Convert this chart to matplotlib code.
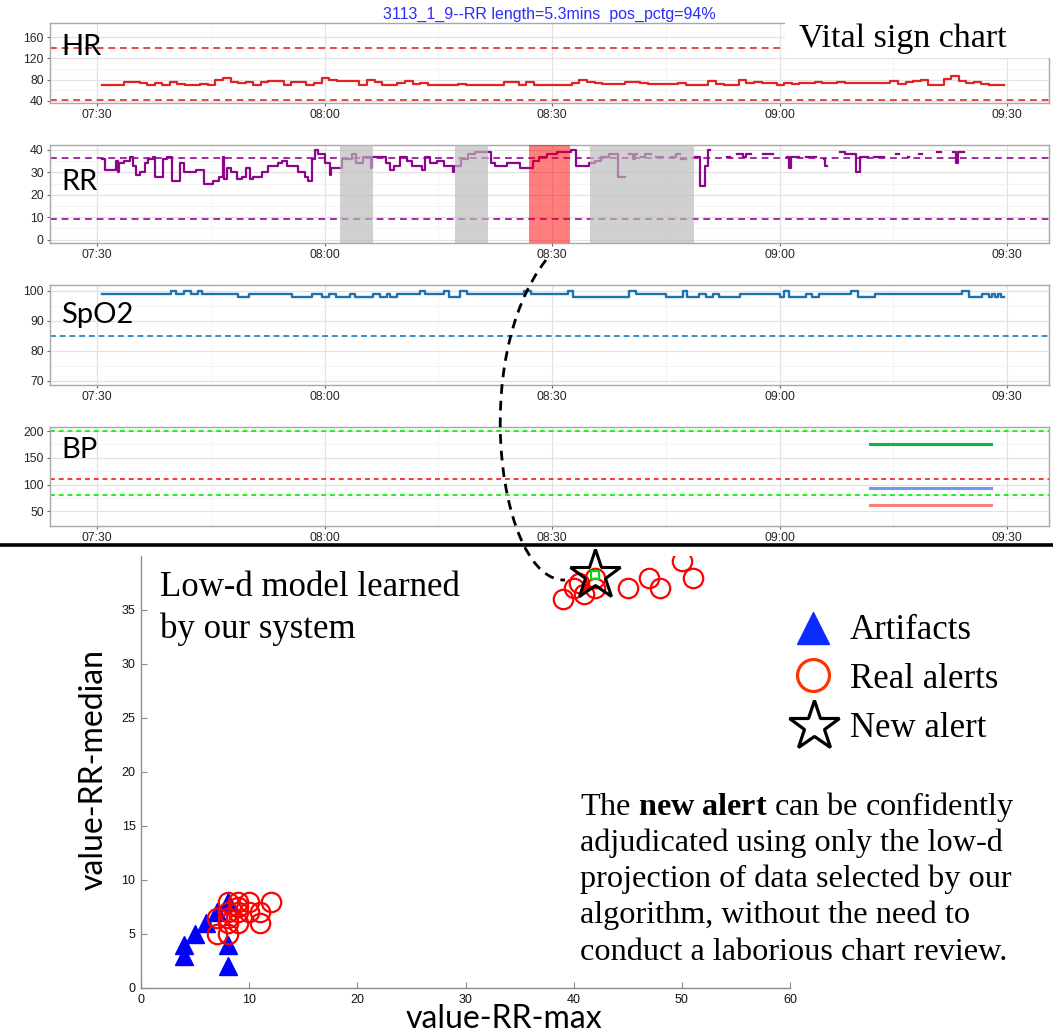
import numpy as np
import matplotlib
matplotlib.use("Agg")
import matplotlib.pyplot as plt
from matplotlib.patches import Rectangle, PathPatch
from matplotlib.path import Path

plt.rcParams['font.family'] = ['Liberation Sans', 'DejaVu Sans']
plt.rcParams['mathtext.fontset'] = 'custom'
plt.rcParams['mathtext.rm'] = 'Liberation Serif'
plt.rcParams['mathtext.bf'] = 'Liberation Serif:bold'
plt.rcParams['mathtext.it'] = 'Liberation Serif:italic'

nan = np.nan

# ---------------- data ----------------
title = "3113_1_9--RR length=5.3mins  pos_pctg=94%"
time_ticks = [0, 30, 60, 90, 120]            # minutes after 07:30
time_labels = ['07:30', '08:00', '08:30', '09:00', '09:30']

# heart rate, one reading per minute starting 07:30.6
hr_values = [70, 70, 70, 75, 75, 74, 70, 74, 70, 75,
             72, 70, 70, 71, 70, 79, 82, 76, 74, 75,
             70, 76, 77, 77, 70, 76, 76, 70, 74, 82,
             80, 78, 77, 77, 70, 80, 75, 70, 70, 74,
             78, 72, 74, 70, 70, 70, 70, 72, 70, 70,
             70, 70, 70, 75, 75, 70, 75, 70, 70, 70,
             70, 70, 74, 80, 76, 74, 72, 72, 72, 76,
             75, 73, 72, 72, 72, 72, 74, 70, 70, 70,
             77, 72, 70, 70, 80, 74, 75, 73, 74, 70,
             74, 72, 74, 73, 75, 74, 74, 76, 73, 73,
             73, 73, 73, 73, 77, 72, 76, 77, 80, 70,
             70, 81, 87, 78, 73, 76, 72, 70, 70]
hr_start = 0.6
hr_thresholds = [41, 140]

rr_t = [0.7, 1.1, 2.5, 2.7, 2.9, 3.6, 4.3, 4.7, 5.2, 5.6,
        6.3, 6.7, 7.4, 7.6, 8.7, 9.2, 9.9, 11.0, 11.4, 13.0,
        14.1, 15.3, 16.1, 16.6, 16.8, 17.1, 17.7, 18.4, 19.1, 19.7,
        20.2, 20.6, 21.7, 22.6, 23.8, 24.4, 25.1, 26.5, 27.4, 27.8,
        28.3, 28.7, 29.1, 30.0, 30.7, 30.9, 32.3, 33.6, 34.1, 35.0,
        36.1, 36.3, 38.1, 38.6, 39.2, 39.9, 40.8, 41.5, 42.8, 43.3,
        43.9, 44.8, 45.8, 46.9, 47.1, 48.0, 48.9, 49.8, 52.0, 52.5,
        54.0, 55.7, 57.5, 58.2, 59.3, 60.7, 62.5, 63.1, 64.9, 65.7,
        66.5, 67.5, 68.7, 69.6,
        70.1, 70.6, 70.9, 71.2,
        71.7, 72.2, 73.0,
        73.7, 74.6,
        75.7, 76.3, 76.8,
        77.0, 77.7,
        78.8, 79.5, 80.2, 80.6, 80.8,
        83.1, 83.5,
        84.4, 85.2, 85.6, 86.2,
        87.8, 89.1,
        90.9, 91.2, 91.5, 92.5,
        93.4, 94.8,
        95.9, 96.0, 96.2,
        97.9, 98.6, 99.5,
        99.7, 100.0, 100.6, 101.7,
        102.4, 103.7,
        105.3, 105.7,
        106.9, 107.1,
        108.4, 108.7,
        110.7, 111.3,
        112.9, 113.2, 113.5, 114.3]
rr_v = [36, 31, 35, 30, 34, 35, 37, 33, 29, 30,
        34, 36, 37, 28, 36, 37, 26, 34, 30, 31,
        25, 26, 28, 37, 27, 32, 30, 27, 28, 32,
        27, 28, 30, 33, 34, 35, 33, 30, 28, 26,
        36, 40, 38, 34, 29, 32, 36, 38, 34, 37,
        32, 37, 34, 31, 33, 37, 35, 33, 31, 37,
        34, 35, 33, 30, 33, 36, 38, 39, 34, 33,
        34, 32, 35, 37, 38, 39, 40, 33, 34, 35,
        37, 38, 28, nan,
        38, 36, 38, nan,
        37, 38, nan,
        37, nan,
        37, 38, nan,
        36, nan,
        37, 24, 33, 40, nan,
        37, nan,
        38, 37, 38, nan,
        38, nan,
        37, 32, 37, nan,
        37, nan,
        36, 33, nan,
        39, 38, nan,
        38, 30, 37, nan,
        37, nan,
        38, nan,
        37, nan,
        38, nan,
        39, nan,
        39, 34, 39, nan]
rr_thresholds = [9, 36.5]
gray_windows = [(32.0, 36.4), (47.2, 51.5), (65.0, 78.7)]
alert_window = (57.0, 62.4)

spo2_t = [0.6, 9.8, 10.4, 11.5, 12.4, 13.3, 13.8, 18.6, 20.0, 25.7,
          28.4, 29.7, 30.6, 31.5, 33.3, 34.0, 36.4, 37.3, 38.2, 38.6,
          39.5, 42.6, 43.2, 45.7, 46.4, 47.9, 48.8, 56.3, 57.2, 62.1,
          62.7, 66.1, 70.1, 71.0, 75.0, 77.2, 77.8, 79.4, 80.3, 81.2,
          82.0, 84.7, 90.0, 90.5, 91.2, 93.4, 94.3, 95.2, 99.4, 100.3,
          102.5, 114.0, 114.9, 116.7, 117.6, 118.0, 118.4, 118.8, 119.2, 119.6]
spo2_v = [99, 100, 99, 100, 99, 100, 99, 98, 99, 98,
          99, 98, 99, 98, 99, 98, 99, 98, 99, 98,
          99, 100, 99, 100, 98, 100, 99, 100, 99, 100,
          98, 98, 100, 99, 98, 100, 98, 99, 98, 99,
          98, 99, 98, 100, 98, 99, 98, 99, 100, 98,
          99, 100, 98, 99, 98, 99, 98, 99, 98, 98]
spo2_thresholds = [85]

bp_t = [101.9, 117.9]
bp_sys = [176, 176]
bp_mean = [94, 94]
bp_dia = [62, 62]
bp_green_thr = [81, 200]
bp_red_thr = [110]

# scatter (low-d projection)
art_x = [4, 4, 5, 6, 7, 8, 8, 8]
art_y = [3, 4, 5, 6, 7, 8, 4, 2]
real_x = [7, 8, 7, 8, 9, 11, 8, 9, 10, 11, 8, 9, 10, 12, 8, 9,
          39, 40, 40.5, 41, 42, 42, 45, 47, 48, 50, 51]
real_y = [5, 5, 6.5, 6, 6, 6, 7, 7, 7, 7, 8, 8, 8, 8, 6.5, 7.5,
          36, 37, 37.5, 36.5, 37, 38, 37, 38, 37, 39.5, 38]
new_x, new_y = 42, 38.2

legend_labels = ['Artifacts', 'Real alerts', 'New alert']
para_lines = ["The $\\mathbf{new\\ alert}$ can be confidently",
              "adjudicated using only the low-d",
              "projection of data selected by our",
              "algorithm, without the need to",
              "conduct a laborious chart review."]

# ---------------- figure ----------------
W, H = 1053, 1036
fig = plt.figure(figsize=(W / 100, H / 100), dpi=100)


def add_px_axes(l, t, r, b, **kw):
    return fig.add_axes([l / W, 1 - b / H, (r - l) / W, (b - t) / H], **kw)


XL, XR = 50, 1049
XLIM = (-6.2, 125.5)


def style_ts(ax, ylim, yticks, yminor):
    ax.set_xlim(*XLIM)
    ax.set_ylim(*ylim)
    ax.set_xticks(time_ticks)
    ax.set_xticklabels(time_labels)
    ax.set_xticks([15, 45, 75, 105], minor=True)
    ax.set_yticks(yticks)
    ax.set_yticks(yminor, minor=True)
    ax.grid(which='major', color='#E2E2E2', lw=0.9)
    ax.grid(which='minor', color='#F3F3F3', lw=0.6)
    ax.set_axisbelow(True)
    for s in ax.spines.values():
        s.set_color('#A8A8A8')
        s.set_linewidth(1.0)
    ax.tick_params(which='major', length=2.5, width=0.8, color='#666666',
                   labelsize=8.8, labelcolor='#262626', pad=2)
    ax.tick_params(which='minor', length=0)


def steps(ax, t, v, **kw):
    ax.step(t, v, where='post', **kw)


# HR
ax_hr = add_px_axes(XL, 23, XR, 103)
style_ts(ax_hr, (35.6, 186.8), [40, 80, 120, 160], [60, 100, 140])
hr_t = np.r_[hr_start + np.arange(len(hr_values)), hr_start + len(hr_values)]
hr_v = np.r_[hr_values, hr_values[-1]]
steps(ax_hr, hr_t, hr_v, color='#E02424', lw=1.6)
for y in hr_thresholds:
    ax_hr.axhline(y, color='#E54848', lw=1.4, ls=(0, (3.5, 2.5)))

# RR
ax_rr = add_px_axes(XL, 145, XR, 243)
style_ts(ax_rr, (-1.5, 42.2), [0, 10, 20, 30, 40], [5, 15, 25, 35])
steps(ax_rr, rr_t, rr_v, color='#8B068B', lw=1.6, zorder=2)
for y in rr_thresholds:
    ax_rr.axhline(y, color='#A52AA5', lw=1.4, ls=(0, (3.5, 2.5)), zorder=1.5)
for a, b in gray_windows:
    ax_rr.axvspan(a, b, color='#BBBBBB', alpha=0.68, lw=0, zorder=3)
ax_rr.axvspan(*alert_window, color='#FF0000', alpha=0.5, lw=0, zorder=3)

# SpO2
ax_sp = add_px_axes(XL, 285, XR, 385)
style_ts(ax_sp, (68.6, 101.9), [70, 80, 90, 100], [75, 85, 95])
steps(ax_sp, spo2_t, spo2_v, color='#1F72B0', lw=1.7)
for y in spo2_thresholds:
    ax_sp.axhline(y, color='#3A8CC8', lw=1.4, ls=(0, (3, 2)))

# BP
ax_bp = add_px_axes(XL, 427, XR, 526)
style_ts(ax_bp, (22.6, 207.5), [50, 100, 150, 200], [75, 125, 175])
for y in bp_green_thr:
    ax_bp.axhline(y, color='#22EE22', lw=1.4, ls=(0, (2.5, 2)))
for y in bp_red_thr:
    ax_bp.axhline(y, color='#F03C3C', lw=1.4, ls=(0, (2.5, 2)))
ax_bp.plot(bp_t, bp_sys, color='#10B83A', lw=2.2)
ax_bp.plot(bp_t, bp_mean, color='#6C9BEF', lw=2.2)
ax_bp.plot(bp_t, bp_dia, color='#F8807A', lw=2.2)

# scatter
ax_sc = add_px_axes(141, 556, 790, 988)
ax_sc.set_facecolor('none')
ax_sc.plot(art_x, art_y, ls='none', marker='^', ms=13, color='#0000FF', mec='#0000FF')
ax_sc.plot(real_x, real_y, ls='none', marker='o', ms=14, mfc='none', mec='#FF0000', mew=1.6)
ax_sc.plot([new_x], [new_y], ls='none', marker='s', ms=6, mfc='none', mec='#00DD00', mew=1.5)
ax_sc.plot([new_x], [new_y], ls='none', marker='*', ms=38, mfc='none', mec='black',
           mew=2.2, clip_on=False, zorder=5)
ax_sc.set_xlim(0, 60)
ax_sc.set_ylim(0, 40)
ax_sc.set_xticks(range(0, 61, 10))
ax_sc.set_yticks(range(0, 36, 5))
ax_sc.spines['top'].set_visible(False)
ax_sc.spines['right'].set_visible(False)
for s in ('left', 'bottom'):
    ax_sc.spines[s].set_color('#8C8C8C')
    ax_sc.spines[s].set_linewidth(1.0)
ax_sc.tick_params(direction='in', length=4, width=0.8, color='#8C8C8C',
                  labelsize=9, labelcolor='#111111', pad=4)

# ---------------- overlay (annotations, pixel coordinates) ----------------
ov = fig.add_axes([0, 0, 1, 1], zorder=20)
ov.set_xlim(0, W)
ov.set_ylim(H, 0)
ov.axis('off')

ov.add_patch(Rectangle((785, 0), W - 785, 58, facecolor='white', edgecolor='none'))
ov.text(799, 46.5, 'Vital sign chart', family='Liberation Serif', fontsize=24.5,
        va='baseline', ha='left', color='black')
ov.text(549, 19, title, family='Liberation Sans', fontsize=11.5, color='#2B2BFF',
        ha='center', va='baseline')

for lab, yb in [('HR', 55), ('RR', 190.5), ('SpO2', 323), ('BP', 458)]:
    ov.text(61, yb, lab, family='Lato', fontsize=21, va='baseline', ha='left', color='black')

ov.plot([0, W], [545, 545], color='black', lw=2.6, solid_capstyle='butt')

conn = Path([(546, 260), (468, 360), (500, 582), (565, 580)],
            [Path.MOVETO, Path.CURVE4, Path.CURVE4, Path.CURVE4])
ov.add_patch(PathPatch(conn, fill=False, edgecolor='black', lw=2.0, ls=(0, (3.5, 2.5))))

ov.text(160, 596.5, 'Low-d model learned', family='Liberation Serif', fontsize=25,
        va='baseline', ha='left')
ov.text(160, 638, 'by our system', family='Liberation Serif', fontsize=25,
        va='baseline', ha='left')

ov.plot([813], [628], ls='none', marker='^', ms=23, color='#0A2CFF')
ov.plot([813], [675], ls='none', marker='o', ms=23, mfc='none', mec='#FF3300', mew=2.3)
ov.plot([814], [726], ls='none', marker='*', ms=38, mfc='white', mec='black', mew=2.3)
for lab, yb in zip(legend_labels, [639, 688, 737]):
    ov.text(850, yb, lab, family='Liberation Serif', fontsize=25, va='baseline', ha='left')

for line, yb in zip(para_lines, [815, 851.5, 887.5, 923.5, 960.5]):
    ov.text(580, yb, line, family='Liberation Serif', fontsize=23.2, va='baseline', ha='left')

ov.text(504, 1028, 'value-RR-max', family='Lato', fontsize=23, ha='center',
        va='baseline')
ov.text(103, 770, 'value-RR-median', family='Lato', fontsize=23, ha='center',
        va='baseline', rotation=90, rotation_mode='anchor')

fig.savefig('out.png', dpi=100)
